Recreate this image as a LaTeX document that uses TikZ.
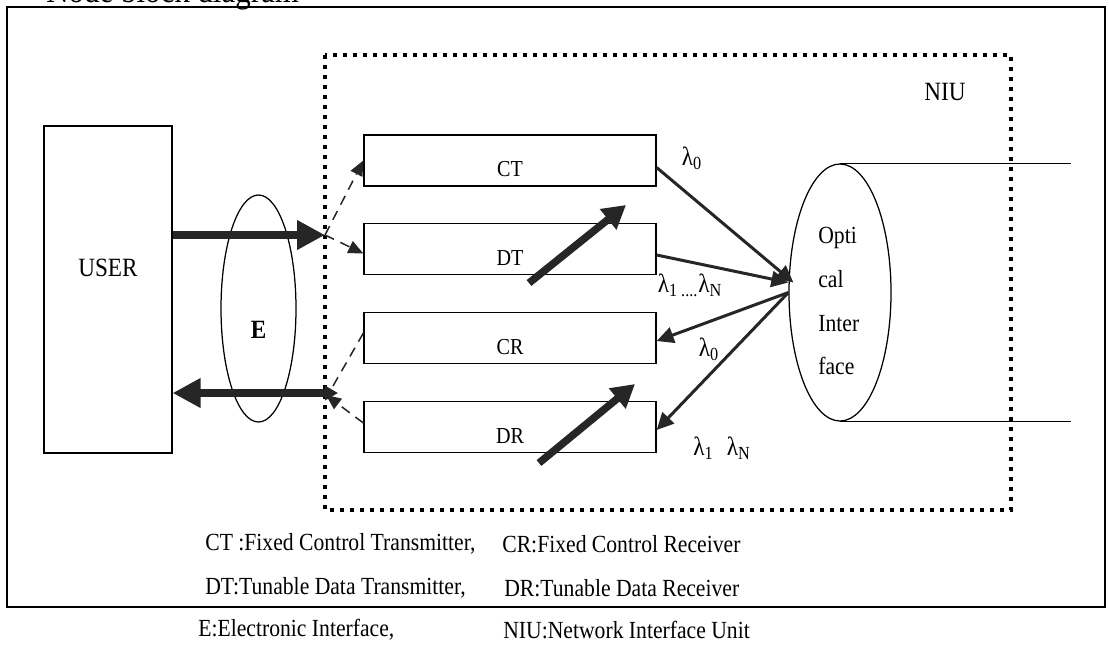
\documentclass[tikz,border=0pt]{standalone}
\usepackage{fontspec}
\setmainfont[FakeStretch=0.88]{Liberation Serif}
\usetikzlibrary{arrows.meta,shapes.geometric,positioning}
\tikzset{
  blk/.style={
    draw,
    line width=0.25mm,
    minimum width=58.4mm,
    minimum height=10.2mm,
    inner sep=0pt
  },
  oval/.style={
    shape = ellipse,
    draw,
    line width=0.25mm,
    inner sep=0pt
  },
  bus/.style={
    draw=black!85,
    line width=1.6mm,
    -{Triangle[length=5.6mm,width=5.6mm]}
  },
  tune/.style={
    draw=black!85,
    line width=1.5mm,
    -{Triangle[length=4.6mm,width=5mm]}
  },
  opt/.style={
    draw=black!85,
    line width=0.6mm,
    -{Triangle[length=3.4mm,width=3.2mm]}
  },
  ctl/.style={
    draw=black!85,
    line width=0.3mm,
    dash pattern=on 2mm off 1.4mm
  },
  niu/.style={
    draw,
    line width=0.8mm,
    dash pattern=on 0.8mm off 1.2mm
  },
}
\tikzset{
  big/.style = {font=\fontsize{15}{17}\selectfont},
  mid/.style = {font=\fontsize{13}{15}\selectfont},
  capt/.style = {anchor=west, inner sep=0pt, font=\fontsize{14}{16}\selectfont},
}

\begin{document}
\begin{tikzpicture}[x=0.2mm,y=-0.2mm]
\useasboundingbox (0,0) rectangle (1109,644);
\begin{scope}
\clip (0,0) rectangle (1109,644);
\node[anchor=base west, font=\fontsize{20}{22}\selectfont, inner sep=0pt] (title) at (46,2) {Node block diagram};
\end{scope}
\draw[line width=0.35mm] (7,7) rectangle (1105,607);
\draw[niu] (325,55) rectangle (1011,510);
\node[big] (niulbl) at (945,92) {NIU};

\node[draw, line width=0.25mm, minimum width=25.6mm, minimum height=65.4mm,
      label={[big, yshift=4.4mm]center:USER}] (user) at (108,289.5) {};
\node[oval, minimum width=15mm, minimum height=45.4mm,
      label={[big, yshift=-4.2mm]center:\textbf{E}}] (eif) at (258.5,308.5) {};

\foreach \n/\t/\y in {ct/CT/160.5, dt/DT/249, cr/CR/338, dr/DR/427}{
  \node[blk, label={[mid, yshift=-1.8mm]center:\t}] (\n) at (510,\y) {}; }

\coordinate (jt) at (325,235);
\coordinate (jr) at (325,393);
\draw[bus] (user.east |- jt) -- (jt);
\draw[bus, {Triangle[length=5.6mm,width=5.6mm]}-{Triangle[length=2.6mm,width=2.8mm]}] (user.east |- jr) -- ([xshift=2.6mm]jr);

\draw[ctl, -{Triangle[length=3mm,width=2.6mm]}] (jt) -- (ct.west);
\draw[ctl, -{Triangle[length=3mm,width=2.6mm]}] (jt) -- ([yshift=-0.9mm]dt.west);
\draw[ctl] ([yshift=1mm]cr.west) -- ([shift={(8,-7)}]jr);
\draw[ctl, -{Triangle[length=3mm,width=2.6mm]}] ([yshift=0.8mm]dr.west) -- ([shift={(1,2)}]jr);

\draw[tune] ([shift={(19,34)}]dt.center) -- ++(97,-78);
\draw[tune] ([shift={(29,36)}]dr.center) -- ++(96,-79);

\node[oval, minimum width=20.4mm, minimum height=51.4mm] (oif) at (840,292.5) {};
\draw[line width=0.25mm] (oif.north) -- ++(231,0);
\draw[line width=0.25mm] (oif.south) -- ++(231,0);
\node[anchor=west, align=left, inner sep=0pt, font=\fontsize{14}{25}\selectfont] (oiftxt) at (818,301) {Opti\\cal\\Inter\\face};

\coordinate (oin) at ([shift={(5,-10)}]oif.west);
\draw[opt] ([yshift=-1.4mm]ct.east) -- (oin);
\draw[opt] ([yshift=-1.2mm]dt.east) -- ([xshift=-1mm]oin);
\draw[opt] (oif.west) -- ([yshift=-0.6mm]cr.east);
\draw[opt] (oif.west) -- ([yshift=-0.6mm]dr.east);

\node[big] (l0a) at (692,158) {λ\textsubscript{0}};
\node[big] (lna) at (690,285) {λ\textsubscript{1 ....}λ\textsubscript{N}};
\node[big] (l0b) at (709,349) {λ\textsubscript{0}};
\node[big] (lnb) at (722,448) {λ\textsubscript{1}\enspace λ\textsubscript{N}};

\node[capt] (c1) at (205,544) {CT :Fixed Control Transmitter,};
\node[capt] (c2) at (502,544) {CR:Fixed Control Receiver};
\node[capt] (c3) at (205,588) {DT:Tunable Data Transmitter,};
\node[capt] (c4) at (504,588) {DR:Tunable Data Receiver};
\node[capt] (c5) at (198,630) {E:Electronic Interface,};
\node[capt] (c6) at (503,630) {NIU:Network Interface Unit};
\end{tikzpicture}
\end{document}
